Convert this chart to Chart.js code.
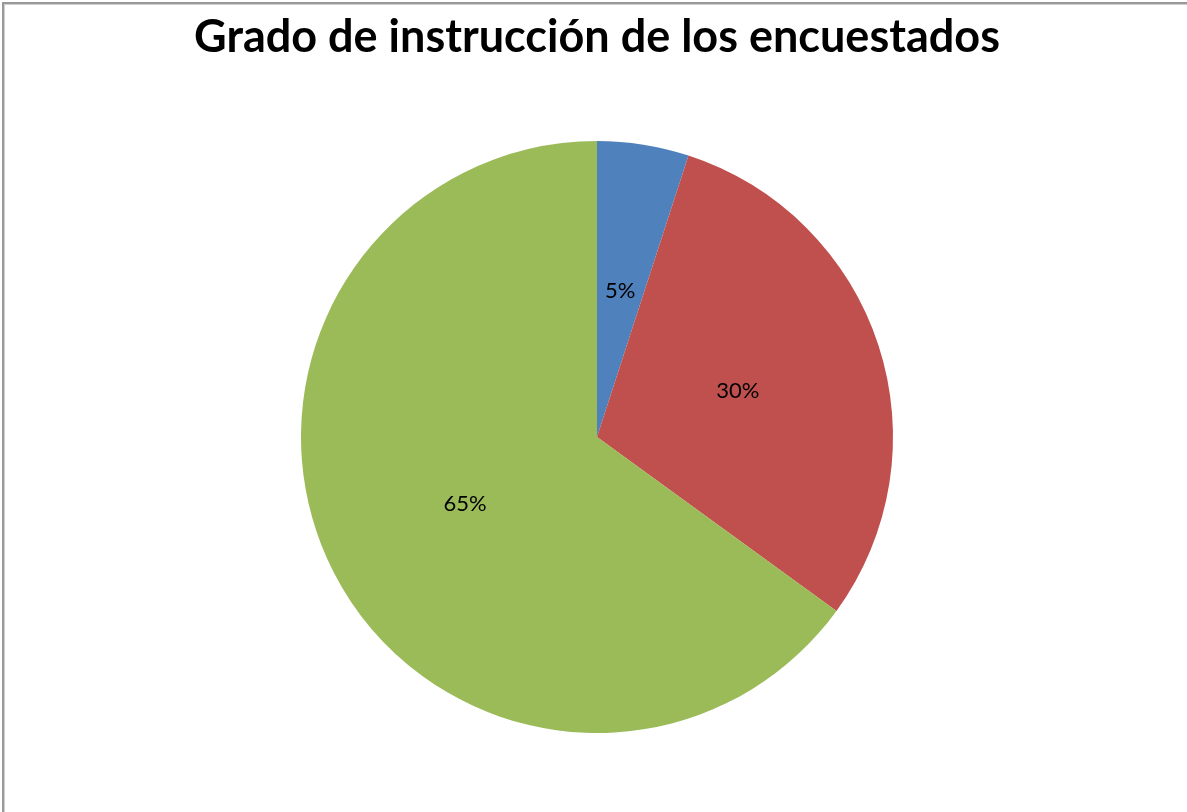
<!DOCTYPE html>
<html>
<head>
<meta charset="utf-8">
<style>
  html, body { margin: 0; padding: 0; background: #ffffff; }
  #wrap { position: relative; width: 1187px; height: 812px; }
  canvas { display: block; }
</style>
<script src="https://cdn.jsdelivr.net/npm/chart.js@4/dist/chart.umd.min.js"></script>
</head>
<body>
<div id="wrap"><canvas id="c" width="1187" height="812"></canvas></div>
<script>
const titleText = "Grado de instrucción de los encuestados";
const categories = ["Categoría 1", "Categoría 2", "Categoría 3"];
const values = [5, 30, 65];
const sliceColors = ["#4F81BD", "#C0504D", "#9BBB59"];

const frame = {
  id: 'frame',
  beforeDraw(chart) {
    const ctx = chart.ctx;
    ctx.save();
    ctx.fillStyle = '#ffffff';
    ctx.fillRect(0, 0, chart.width, chart.height);
    ctx.fillStyle = '#9a9a9a';
    ctx.fillRect(2, 2, chart.width - 2, 2);
    ctx.fillRect(2, 2, 2, chart.height - 2);
    ctx.fillStyle = '#d0d0d0';
    ctx.fillRect(4, 4, chart.width - 4, 1);
    ctx.fillRect(4, 4, 1, chart.height - 4);
    ctx.restore();
  }
};

const pctLabels = {
  id: 'pctLabels',
  afterDatasetsDraw(chart) {
    const ctx = chart.ctx;
    const meta = chart.getDatasetMeta(0);
    const data = chart.data.datasets[0].data;
    const total = data.reduce((a, b) => a + b, 0);
    ctx.save();
    ctx.font = '22px Lato, "Open Sans", sans-serif';
    ctx.fillStyle = '#000000';
    ctx.textAlign = 'center';
    ctx.textBaseline = 'middle';
    meta.data.forEach((arc, i) => {
      const p = arc.getCenterPoint();
      const pct = Math.round(data[i] / total * 100) + '%';
      ctx.fillText(pct, p.x, p.y);
    });
    ctx.restore();
  }
};

new Chart(document.getElementById('c'), {
  type: 'pie',
  data: {
    labels: categories,
    datasets: [{
      data: values,
      backgroundColor: sliceColors,
      borderWidth: 0
    }]
  },
  options: {
    responsive: false,
    animation: false,
    layout: { padding: { left: 7, right: 0, top: 0, bottom: 79 } },
    plugins: {
      legend: { display: false },
      tooltip: { enabled: false },
      title: {
        display: true,
        text: titleText,
        color: '#000000',
        font: { family: 'Lato, "Open Sans", sans-serif', size: 45, weight: 'bold', lineHeight: 1.2 },
        padding: { top: 10, bottom: 77 }
      }
    }
  },
  plugins: [frame, pctLabels]
});
</script>
</body>
</html>
